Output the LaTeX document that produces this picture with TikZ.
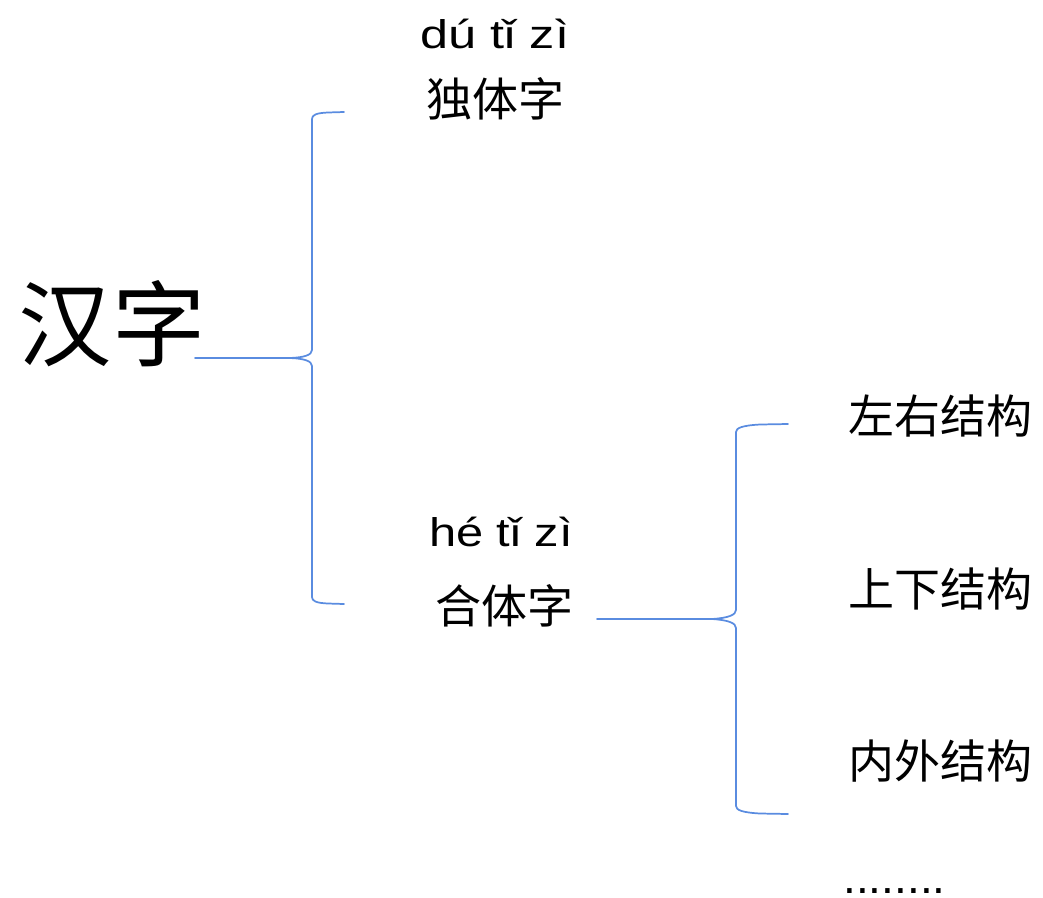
\documentclass[tikz,border=0pt]{standalone}
\usepackage{fontspec}
\setmainfont{Liberation Sans}
\newfontfamily\cjk{Noto Sans CJK SC}
\definecolor{braceblue}{HTML}{5A8CE0}
\tikzset{
  bracestyle/.style={draw=braceblue, line width=1.3pt, line cap=round, line join=round},
  pinyin/.style={font=\fontsize{30}{36}\selectfont, inner sep=0pt},
  hanzi/.style={font=\cjk\fontsize{34.5}{40}\selectfont, inner sep=0pt},
  bighan/.style={font=\cjk\fontsize{70}{80}\selectfont, inner sep=0pt},
}
\begin{document}
\begin{tikzpicture}[x=0.75pt,y=-0.75pt]
\useasboundingbox (0,0) rectangle (1043,897);

% texts
\node[bighan] (hanzi) at (112,324) {汉字};
\node[pinyin] (py1) at (495,34) {\scalebox{1.26}[1]{dú tǐ zì}};
\node[hanzi] (dt) at (495,99) {独体字};
\node[pinyin] (py2) at (501,532) {\scalebox{1.22}[1]{hé tǐ zì}};
\node[hanzi] (ht) at (504,606) {合体字};
\node[hanzi] (zy) at (940,416) {左右结构};
\node[hanzi] (sx) at (940,589) {上下结构};
\node[hanzi] (nw) at (940,761) {内外结构};
\node[inner sep=0pt, font=\fontsize{34.5}{36}\selectfont, text height=6pt, text depth=0pt, anchor=base west] (dots) at (843,893) {........};

% brace 1
\coordinate (b1top) at (344,112);
\coordinate (b1bot) at (344,604);
\coordinate (b1cusp) at (290,358);
\coordinate (b1tail) at (195,358);
\path[bracestyle] (b1top) -- (328,112.5) .. controls (316,113) and (312,115) .. (312,119)
  -- (312,350) .. controls (312,355) and (304,357.5) .. (b1cusp)
  .. controls (304,358.5) and (312,361) .. (312,366)
  -- (312,597) .. controls (312,601) and (316,603) .. (328,603.5) -- (b1bot);
\draw[bracestyle] (b1tail) -- (b1cusp);

% brace 2
\coordinate (b2top) at (788,424);
\coordinate (b2bot) at (788,814);
\coordinate (b2cusp) at (712,619);
\coordinate (b2tail) at (597,619);
\path[bracestyle] (b2top) -- (760,424.5) .. controls (742,425.5) and (736,428) .. (736,432)
  -- (736,610) .. controls (736,615) and (728,618) .. (b2cusp)
  .. controls (728,620) and (736,623) .. (736,628)
  -- (736,806) .. controls (736,810) and (742,812.5) .. (760,813.5) -- (b2bot);
\draw[bracestyle] (b2tail) -- (b2cusp);
\end{tikzpicture}
\end{document}
